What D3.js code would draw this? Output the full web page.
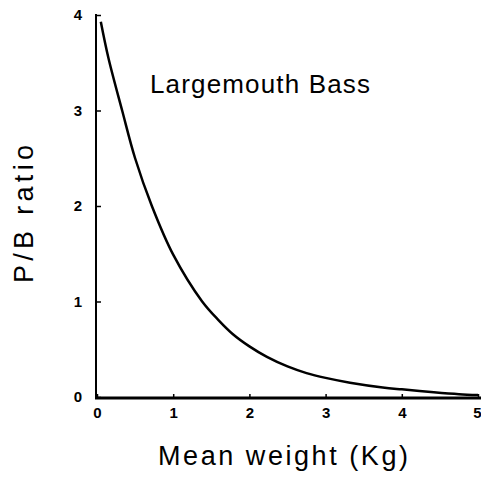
<!DOCTYPE html>
<html>
<head>
<meta charset="utf-8">
<script src="https://cdn.jsdelivr.net/npm/d3@7"></script>
<style>
  body { margin: 0; background: #fff; }
  svg { display: block; }
</style>
</head>
<body>
<div id="chart-area"></div>
<script>
// values
var weights = [0.05, 0.15, 0.33, 0.5, 0.72, 1.0, 1.38, 1.6, 1.78, 2.0, 2.23, 2.5, 2.75, 3.0, 3.32, 3.75, 4.0, 4.42, 4.75, 5.0];
var pbRatio = [3.93, 3.55, 3.0, 2.5, 2.0, 1.49, 1.0, 0.8, 0.66, 0.53, 0.42, 0.32, 0.25, 0.2, 0.15, 0.1, 0.08, 0.05, 0.03, 0.02];
var xTicks = [0, 1, 2, 3, 4, 5];
var yTicks = [0, 1, 2, 3, 4];

var width = 481, height = 482;

var svg = d3.select("#chart-area")
    .append("svg")
    .attr("width", width)
    .attr("height", height);

var x = d3.scaleLinear()
    .domain([0, 5])
    .range([97, 478]);

var y = d3.scaleLinear()
    .domain([0, 4])
    .range([397, 15]);

// x axis
var xAxisCall = d3.axisBottom(x)
    .tickValues(xTicks)
    .tickFormat(d3.format("d"))
    .tickSizeInner(-4)
    .tickSizeOuter(0)
    .tickPadding(9);
var xAxis = svg.append("g")
    .attr("class", "x-axis")
    .attr("transform", "translate(0," + 398 + ")")
    .call(xAxisCall);
xAxis.select(".domain")
    .attr("d", "M95,0H481")
    .attr("stroke-width", 3);
xAxis.selectAll("line").attr("stroke-width", 1.5);
xAxis.selectAll("text")
    .attr("font-family", "Liberation Sans, Arial, sans-serif")
    .attr("font-weight", "bold")
    .attr("font-size", "15px")
    .attr("fill", "#000");
// last label sits on the right edge
xAxis.selectAll(".tick").filter(function(d) { return d === 5; })
    .select("text")
    .attr("text-anchor", "end")
    .attr("x", 3);

// y axis
var yAxisCall = d3.axisLeft(y)
    .tickValues(yTicks)
    .tickFormat(d3.format("d"))
    .tickSizeInner(-5)
    .tickSizeOuter(0)
    .tickPadding(14);
var yAxis = svg.append("g")
    .attr("class", "y-axis")
    .attr("transform", "translate(96,0)")
    .call(yAxisCall);
yAxis.select(".domain")
    .attr("d", "M0,14V399")
    .attr("stroke-width", 2);
yAxis.selectAll("line").attr("stroke-width", 1.5);
yAxis.selectAll("text")
    .attr("font-family", "Liberation Sans, Arial, sans-serif")
    .attr("font-weight", "bold")
    .attr("font-size", "15px")
    .attr("fill", "#000");

// curve
var line = d3.line()
    .x(function(d, i) { return x(weights[i]); })
    .y(function(d) { return y(d); })
    .curve(d3.curveCatmullRom.alpha(0.5));

svg.append("path")
    .datum(pbRatio)
    .attr("d", line)
    .attr("fill", "none")
    .attr("stroke", "#000")
    .attr("stroke-width", 2.5);

// title
svg.append("text")
    .attr("x", 150)
    .attr("y", 93)
    .attr("font-family", "Liberation Sans, Arial, sans-serif")
    .attr("font-size", "26px")
    .attr("textLength", 220)
    .attr("lengthAdjust", "spacing")
    .text("Largemouth Bass");

// x label
svg.append("text")
    .attr("x", 158)
    .attr("y", 465)
    .attr("font-family", "Liberation Sans, Arial, sans-serif")
    .attr("font-size", "27px")
    .attr("textLength", 250)
    .attr("lengthAdjust", "spacing")
    .text("Mean weight (Kg)");

// y label
svg.append("text")
    .attr("transform", "translate(33,283) rotate(-90)")
    .attr("font-family", "Liberation Sans, Arial, sans-serif")
    .attr("font-size", "27px")
    .attr("textLength", 138)
    .attr("lengthAdjust", "spacing")
    .text("P/B ratio");
</script>
</body>
</html>
